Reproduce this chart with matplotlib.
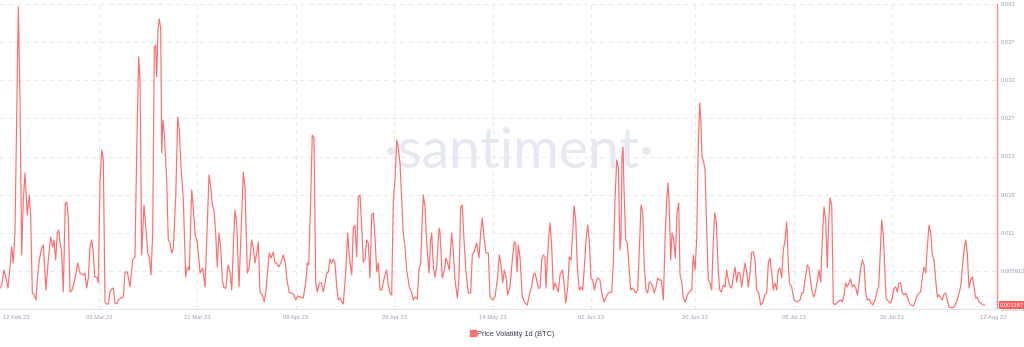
import matplotlib
matplotlib.use("Agg")
import matplotlib.pyplot as plt
import matplotlib.transforms as mtransforms
from matplotlib.lines import Line2D
import numpy as np

# ---- data: days since 12 Feb 2023 00:00, and 1d price volatility of BTC ----
days = [
    0.9, 1.21, 1.63, 2.0, 2.36, 2.73, 3.04, 3.33, 3.64, 4.25, 4.56, 4.87, 5.16, 5.47, 5.89, 6.26, 6.51,
    6.81, 7.17, 7.48, 7.72, 8.09, 8.52, 8.82, 9.31, 9.73, 10.17, 10.54, 10.77, 11.08, 11.38, 11.63,
    11.87, 12.18, 12.47, 12.84, 13.1, 13.39, 13.7, 14.07, 14.43, 14.8, 15.11, 15.53, 16.13, 16.44,
    16.75, 17.05, 17.36, 17.67, 17.96, 18.22, 18.58, 18.87, 19.19, 19.5, 19.79, 20.1, 20.41, 20.7,
    21.01, 21.32, 21.62, 21.93, 22.24, 22.53, 22.97, 23.45, 23.76, 24.18, 24.67, 25.16, 25.58, 25.9,
    26.26, 26.5, 26.81, 27.23, 27.6, 27.91, 28.2, 28.51, 28.82, 29.11, 29.37, 29.55, 29.79, 30.03,
    30.28, 30.47, 30.7, 30.94, 31.38, 31.67, 31.98, 32.3, 32.59, 33.03, 33.39, 33.69, 34.0, 34.42,
    34.86, 35.04, 35.33, 35.51, 35.95, 36.14, 36.56, 36.98, 37.29, 37.47,
    37.96, 38.38, 38.7, 39.12, 39.43, 39.72, 40.03, 40.34, 40.63, 40.94, 41.26, 41.55, 41.86, 42.22,
    42.59, 42.96, 43.27, 43.56, 43.87, 44.18, 44.6, 44.91, 45.39, 45.7, 46.12, 46.48, 46.92, 47.22,
    47.53, 47.84, 48.13, 48.44, 48.86, 49.23, 49.54, 49.85, 50.14, 50.45, 50.87, 51.18, 51.5, 51.86,
    52.23, 52.7, 53.07, 53.43, 53.8, 54.24, 54.66, 54.97, 55.34, 55.76, 56.36, 56.85, 57.09, 57.35,
    57.71, 58.0, 58.31, 58.63, 58.92, 59.28, 59.65, 60.02, 60.33, 60.64, 60.93, 61.24, 61.55, 61.85,
    62.15, 62.47, 62.76, 63.07, 63.38, 63.67, 64.11, 64.48, 64.77, 65.21, 65.5, 65.81, 66.12, 66.42,
    66.73, 67.04, 67.33, 67.64, 67.95, 68.24, 68.55, 68.86, 69.16, 69.47, 69.78, 70.07, 70.38, 70.69,
    70.99, 71.3, 71.61, 71.9, 72.21, 72.52, 72.82, 73.13, 73.44, 73.73, 74.04,
    74.64, 74.95, 75.26, 75.74, 76.18, 76.47, 76.78, 77.2, 77.51, 77.82, 78.06, 78.3, 78.61, 78.92,
    79.34, 79.65, 79.84, 80.13, 80.44, 80.75, 81.17, 81.35, 81.77, 82.14, 82.45, 82.76, 83.05, 83.49,
    83.79, 84.1, 84.52, 84.83, 85.14, 85.43, 85.74, 86.11, 86.53, 86.97, 87.26, 87.57, 88.06, 88.48,
    88.79, 89.09, 89.4, 89.77, 90.19, 90.5, 90.99, 91.41, 91.83, 92.2, 92.51, 92.82, 93.11, 93.42,
    93.73, 94.15, 94.57, 94.94, 95.19, 95.43, 95.67, 95.98, 96.4, 96.9, 97.32, 97.81, 98.12, 98.42,
    98.72, 99.04, 99.33, 99.64, 99.95, 100.25, 100.55, 100.74, 101.05, 101.29, 101.47, 101.78, 102.07,
    102.38, 102.69, 102.99, 103.3, 103.72, 104.03, 104.34, 104.7, 105.0, 105.31, 105.62, 105.86,
    106.17, 106.46, 106.83, 107.14, 107.45, 107.74, 108.05, 108.36, 108.65, 108.96, 109.27, 109.57,
    109.88, 110.19, 110.61,
    110.92, 111.34, 111.71, 112.13, 112.75, 113.04, 113.35, 113.67, 113.96, 114.27, 114.45, 114.63,
    114.82, 115.0, 115.31, 115.6, 115.91, 116.22, 116.52, 116.83, 117.14, 117.5, 117.8, 118.11,
    118.42, 118.71, 119.02, 119.33, 119.63, 119.94, 120.25, 120.54, 120.85, 121.16, 121.46, 121.82,
    122.19, 122.55, 122.81, 123.05, 123.28, 123.54, 123.78, 124.09, 124.38, 124.69, 125.0, 125.24,
    125.55, 125.84, 126.21, 126.57, 126.94, 127.38, 127.67, 127.98, 128.29, 128.59, 128.84, 129.02,
    129.26, 129.5, 129.81, 130.12, 130.41, 130.72, 131.03, 131.33, 131.58, 131.88, 132.19, 132.5,
    132.79, 133.16, 133.47, 133.78, 134.07, 134.38, 134.69, 134.99, 135.3, 135.61, 135.9, 136.21,
    136.52, 136.81, 137.12, 137.43, 137.73, 138.04, 138.35, 138.64, 138.95, 139.26, 139.63, 139.99,
    140.36, 140.73, 141.09, 141.39, 141.69, 142.0, 142.3, 142.61, 142.92, 143.21, 143.52, 143.83,
    144.13, 144.44, 144.75, 145.04, 145.22, 145.66, 146.08, 146.58, 147.18,
    147.49, 147.78, 148.09, 148.51, 148.83, 149.14, 149.43, 149.74, 150.05, 150.35, 150.66, 150.97,
    151.26, 151.57, 151.88, 152.17, 152.43, 152.67, 152.98, 153.27, 153.58, 153.89, 154.31, 154.62,
    154.92, 155.23, 155.54, 155.83, 156.14, 156.45, 156.75, 157.06, 157.37, 157.66, 157.97, 158.28,
    158.58, 158.89, 159.19, 159.49, 159.85, 160.16, 160.47, 160.89, 161.31, 161.57, 161.81, 162.12,
    162.41, 162.72, 162.91, 163.14, 163.45, 163.77, 164.06, 164.37, 164.68, 164.97, 165.28, 165.59,
    165.89, 166.2, 166.51, 166.8, 167.11, 167.42, 167.9, 168.34, 168.64, 168.95, 169.25, 169.55,
    169.85, 170.16, 170.46, 170.77, 171.08, 171.37, 171.68, 171.99, 172.29, 172.6, 172.91, 173.2,
    173.51, 173.82, 174.11, 174.43, 174.92, 175.34, 175.71, 175.94, 176.25, 176.56, 176.86, 177.17,
    177.48, 177.77, 178.08, 178.39, 178.69, 179.0, 179.31, 179.6, 179.91, 180.22, 180.59, 180.88,
]

volatility = [
    .00355, .00397, .00605, .00494, .00355, .00647, .00925, .00702, .01119, .04262, .02966, .00814,
    .01577, .01952, .01369, .01647, .01341, .00286, .00258, .00188, .00466, .00744, .00911, .00952,
    .00327, .00744, .01063, .00925, .01022, .00744, .01119, .01161, .00994, .00841, .00300, .01536,
    .01550, .01327, .00300, .00327, .00425, .00563, .00702, .00563, .00536, .00563, .00355, .00494,
    .00925, .01022, .00841, .00508, .00508, .00425, .01855, .02272, .02133, .00161, .00133, .00133,
    .00300, .00341, .00355, .00147, .00133, .00188, .00216, .00230, .00577, .00577, .00369, .00744,
    .00786, .02272, .03564, .03244, .00814, .01508, .01161, .00841, .00786, .00536, .01119, .03689,
    .03730, .03286, .03939, .04092, .03967, .02230, .02689, .02508, .01855, .01022, .00980, .00841,
    .00911, .01619, .02730, .02550, .02036, .01577, .00508, .00605, .00647, .00605, .01716, .01577,
    .01119, .00980, .00744, .00563,
    .00633, .00369, .01022, .01925, .01758, .01508, .01438, .01119, .00647, .01119, .00925, .00466,
    .00355, .00355, .00675, .00577, .00327, .00925, .01438, .01258, .00369, .00980, .01966, .01744,
    .00563, .00647, .01022, .00911, .00702, .00841, .00994, .00300, .00258, .00161, .00327, .00605,
    .00841, .00772, .00855, .00702, .00702, .00647, .00702, .00814, .00702, .00438, .00286, .00286,
    .00258, .00188, .00244, .00230, .00216, .00466, .00702, .00675, .01577, .02480, .02439, .00425,
    .00300, .00425, .00425, .00300, .00425, .00563, .00577, .00758, .00702, .00758, .00702, .00369,
    .00188, .00216, .00161, .00133, .00563, .01119, .00786, .00536, .01188, .01230, .00786, .01619,
    .01647, .01202, .00716, .00758, .01022, .00980, .00494, .01369, .01397, .01063, .00577, .00702,
    .00327, .00327, .00438, .00536, .00605, .00397, .00286, .00258, .01577, .01855, .02411, .02300,
    .02091,
    .01119, .00925, .00605, .00369, .00286, .00188, .00230, .00202, .00605, .00702, .01202, .01647,
    .01480, .00980, .00563, .01022, .01119, .00647, .00508, .00647, .01188, .01133, .00494, .00605,
    .00772, .00702, .00605, .01119, .00855, .00466, .00216, .00508, .01480, .01508, .01022, .00563,
    .00286, .00286, .00814, .00855, .00980, .00772, .01119, .01327, .01063, .00841, .00841, .00230,
    .00188, .00230, .00466, .00814, .00675, .00425, .00605, .00508, .00258, .00369, .00744, .00994,
    .00980, .00577, .00952, .00786, .00230, .00147, .00119, .00300, .00369, .00536, .00563, .00466,
    .00355, .00355, .00744, .00814, .00786, .00355, .00841, .01119, .01258, .00925, .00327, .00425,
    .00369, .00300, .00536, .00605, .00425, .00147, .00355, .00786, .00744, .01119, .01494, .01299,
    .00647, .00327, .00369, .00327, .00633, .01022, .01230, .01022, .00494, .00466, .00327, .00438,
    .00494, .00466,
    .00286, .00161, .00230, .00286, .00300, .00702, .01577, .02133, .02036, .00883, .01063, .02175,
    .02314, .01716, .01022, .00980, .00647, .00327, .00355, .00327, .00286, .00327, .00883, .01508,
    .01397, .00647, .00327, .00286, .00438, .00425, .00369, .00286, .00369, .00494, .00466, .00466,
    .00188, .01119, .01577, .01814, .01480, .00744, .01119, .01022, .00772, .01397, .01536, .00536,
    .00438, .00216, .00161, .00258, .00300, .00327, .00814, .00605, .01022, .02369, .02925, .02730,
    .02175, .02133, .01994, .01161, .00466, .00425, .00327, .01022, .01397, .01272, .00647, .00327,
    .00300, .00397, .00369, .00605, .00466, .00369, .00355, .00508, .00647, .00438, .00577, .00563,
    .00369, .00536, .00702, .00577, .00369, .00563, .00855, .00855, .00744, .00327, .00286, .00119,
    .00147, .00258, .00286, .00702, .00772, .00577, .00327, .00425, .00327, .00605, .00633, .00494,
    .00883, .01022, .01272, .00702, .00425, .00369, .00188, .00161, .00188,
    .00286, .00286, .00466, .00675, .00633, .00425, .00286, .00230, .00327, .00466, .00605, .00438,
    .01050, .01480, .01299, .00633, .01299, .01605, .01508, .00147, .00119, .00147, .00175, .00188,
    .00161, .00258, .00425, .00369, .00425, .00480, .00369, .00397, .00355, .00258, .00425, .00633,
    .00744, .00675, .00286, .00188, .00202, .00147, .00119, .00188, .00327, .00369, .00786, .01299,
    .01091, .00563, .00216, .00188, .00161, .00147, .00216, .00355, .00369, .00300, .00425, .00425,
    .00286, .00258, .00286, .00230, .00161, .00119, .00105, .00188, .00258, .00286, .00300, .00508,
    .00647, .00563, .00925, .01230, .01119, .00814, .00744, .00466, .00230, .00258, .00216, .00188,
    .00272, .00286, .00188, .00091, .00078, .00091, .00147, .00188, .00286, .00369, .00633, .00883,
    .01022, .00841, .00355, .00466, .00508, .00369, .00216, .00230, .00161, .00147, .00119, .001187,
]

tick_days = [19, 37, 55, 73, 91, 109, 128, 146, 164]
tick_labels = ["03 Mar 23", "21 Mar 23", "08 Apr 23", "26 Apr 23", "14 May 23",
               "01 Jun 23", "20 Jun 23", "08 Jul 23", "26 Jul 23"]
first_label = "12 Feb 23"
last_label = "12 Aug 23"
y_tick_labels = ["0.000673", "0.005912", "0.011", "0.016", "0.022", "0.027", "0.032", "0.037", "0.043"]
last_value_label = "0.001187"
series_name = "Price Volatility 1d (BTC)"

LINE = "#ff6e6e"
GRID = "#e8eaf0"
TXT = "#9aa2b6"

plt.rcParams["font.family"] = ["Liberation Sans", "DejaVu Sans"]

fig = plt.figure(figsize=(10.24, 3.47), dpi=100)
ax = fig.add_axes([0.0, 1 - 309 / 347, 997 / 1024, 305 / 347])

ymin, ymax = 0.000634, 0.043
ax.set_xlim(0.9, 183.2)
ax.set_ylim(ymin, ymax)

# watermark
ax.text(0.521, 0.462, "\u00b7santiment\u00b7", transform=ax.transAxes, ha="center",
        va="baseline", fontsize=40, color="#e6e8f2", family=["Lato", "DejaVu Sans"],
        fontweight="normal", zorder=0)

ax.plot(days, volatility, color=LINE, lw=0.85, zorder=3)

# axes styling
for s in ["top", "left"]:
    ax.spines[s].set_visible(False)
ax.spines["bottom"].set_color("#e3e5ec")
ax.spines["bottom"].set_linewidth(0.8)
ax.spines["right"].set_color("#ff8a8a")
ax.spines["right"].set_linewidth(1.0)

ax.set_xticks(tick_days)
ax.set_xticklabels(tick_labels)
ax.set_yticks(np.linspace(ymin, ymax, len(y_tick_labels)))
ax.set_yticklabels(y_tick_labels)
ax.yaxis.tick_right()
ax.tick_params(axis="both", length=0, labelsize=4.2, colors=TXT)
ax.tick_params(axis="x", pad=4)
ax.tick_params(axis="y", pad=2.5)
ax.grid(True, color=GRID, lw=0.75, ls=(0, (4, 4)), zorder=1)

ax.text(0.0027, -0.021, first_label, transform=ax.transAxes, ha="left", va="top",
        fontsize=4.2, color=TXT)
ax.text(0.996, -0.021, last_label, transform=ax.transAxes, ha="center", va="top",
        fontsize=4.2, color=TXT)

# last value badge
trans = mtransforms.blended_transform_factory(ax.transAxes, ax.transData)
ax.text(1.003, volatility[-1], last_value_label, transform=trans, ha="left", va="center",
        fontsize=4.2, color="white", zorder=5, clip_on=False,
        bbox=dict(boxstyle="square,pad=0.25", fc="#ff5c5c", ec="none"))

handle = Line2D([], [], marker="s", ls="", color=LINE, markersize=4)
fig.legend([handle], [series_name], loc="center", bbox_to_anchor=(0.5, 1 - 334 / 347),
           frameon=False, fontsize=5.3, handletextpad=0.2, handlelength=0.8,
           labelcolor="#3d4150")

fig.savefig("out.png", dpi=100)
